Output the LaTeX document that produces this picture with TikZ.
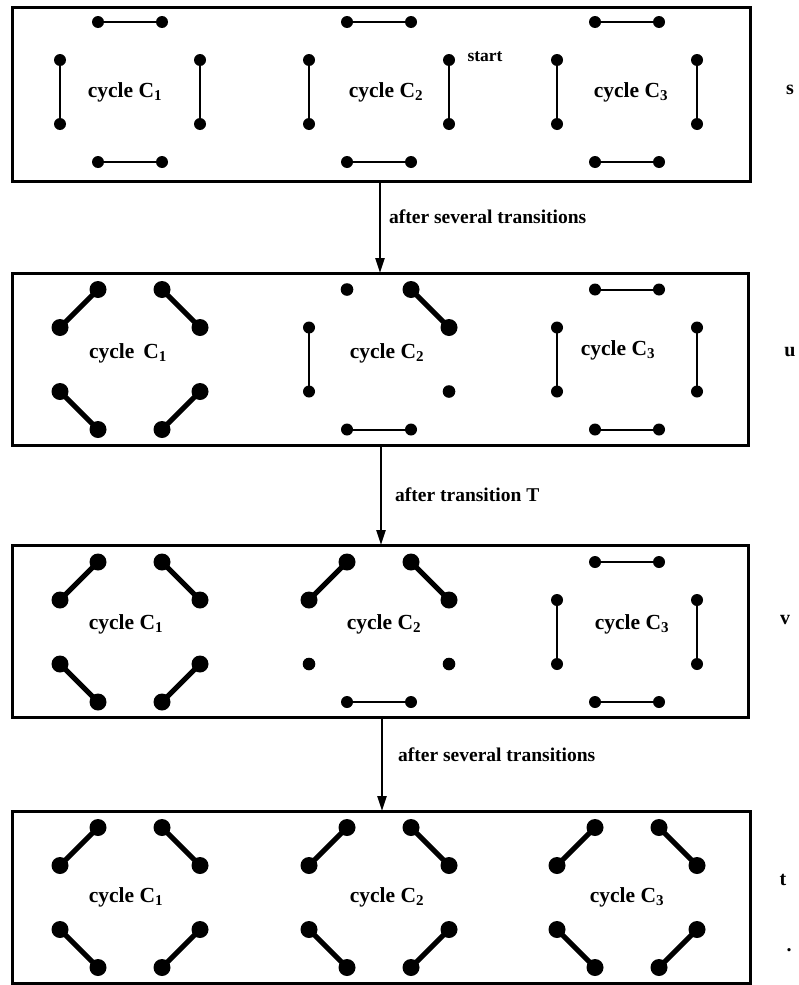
\documentclass[tikz,border=0pt]{standalone}
\usepackage{fontspec}
\setmainfont{Liberation Serif}
\usetikzlibrary{arrows.meta}
\newcommand\cyclepts[3]{%
  \foreach \i/\dx/\dy in {1/-32/-70,2/32/-70,3/70/-32,4/70/32,5/32/70,6/-32/70,7/-70/32,8/-70/-32}
    {\coordinate (#1\i) at (#2+\dx,#3+\dy);}}
\newcommand\thinpair[2]{\draw[thinl] (#1)--(#2); \fill (#1) circle[radius=6]; \fill (#2) circle[radius=6];}
\newcommand\thickpair[2]{\draw[thickl] (#1)--(#2); \fill (#1) circle[radius=8.5]; \fill (#2) circle[radius=8.5];}
\newcommand\onedot[1]{\fill (#1) circle[radius=6.3];}
\begin{document}
\begin{tikzpicture}[x=1pt,y=-1pt,
  frame/.style={draw, line width=3pt, outer sep=0pt, inner sep=0pt, minimum width=738pt},
  thinl/.style={line width=2pt},
  thickl/.style={line width=5pt},
  cyc/.style={font=\fontsize{21.5}{23}\selectfont\bfseries, inner sep=0pt},
  lbl/.style={font=\fontsize{19.5}{21}\selectfont\bfseries, inner sep=0pt},
  side/.style={font=\fontsize{20}{22}\selectfont\bfseries, inner sep=0pt},
  flow/.style={line width=2.6pt, -{Triangle[length=15pt,width=9pt]}},
]
\useasboundingbox (0,0) rectangle (799,985);
% boxes
\node[frame, minimum height=174pt] (b1) at (381,94) {};
\node[frame, minimum height=172pt, minimum width=736pt] (b2) at (380,359) {};
\node[frame, minimum height=172pt, minimum width=736pt] (b3) at (380,631) {};
\node[frame, minimum height=172pt] (b4) at (381,897) {};
% arrows
\coordinate (ax1) at (380,0);
\coordinate (ax2) at (381,0);
\coordinate (ax3) at (382,0);
\draw[flow] (ax1 |- b1.south) -- (ax1 |- b2.north);
\draw[flow] (ax2 |- b2.south) -- (ax2 |- b3.north);
\draw[flow] (ax3 |- b3.south) -- (ax3 |- b4.north);
\node[lbl, anchor=west] (l1) at (389,217) {after several transitions};
\node[lbl, anchor=west] (l2) at (395,495) {after transition T};
\node[lbl, anchor=west] (l3) at (398,755) {after several transitions};
% side labels
\node[side] (ss) at (790,90) {s};
\node[side] (su) at (790,352) {u};
\node[side] (sv) at (785,620) {v};
\node[side] (st) at (783,880) {t};
\node[side] (sdot) at (789,950) {.};
% points
\cyclepts{a}{130}{92}   \cyclepts{b}{379}{92}   \cyclepts{c}{627}{92}
\cyclepts{d}{130}{359.5}\cyclepts{e}{379}{359.5}\cyclepts{f}{627}{359.5}
\cyclepts{g}{130}{632}  \cyclepts{h}{379}{632}  \cyclepts{k}{627}{632}
\cyclepts{m}{130}{897.5}\cyclepts{n}{379}{897.5}\cyclepts{p}{627}{897.5}
% box s
\thinpair{a1}{a2}\thinpair{a3}{a4}\thinpair{a5}{a6}\thinpair{a7}{a8}
\thinpair{b1}{b2}\thinpair{b3}{b4}\thinpair{b5}{b6}\thinpair{b7}{b8}
\thinpair{c1}{c2}\thinpair{c3}{c4}\thinpair{c5}{c6}\thinpair{c7}{c8}
\node[cyc] (ca) at (125,92) {cycle C\textsubscript{1}};
\node[cyc] (cb) at (386,92) {cycle C\textsubscript{2}};
\node[cyc] (cc) at (631,92) {cycle C\textsubscript{3}};
\node[lbl, font=\fontsize{17.5}{19}\selectfont\bfseries] (start) at (485,57) {start};
% box u
\thickpair{d8}{d1}\thickpair{d2}{d3}\thickpair{d4}{d5}\thickpair{d6}{d7}
\onedot{e1}\thickpair{e2}{e3}\onedot{e4}\thinpair{e5}{e6}\thinpair{e7}{e8}
\thinpair{f1}{f2}\thinpair{f3}{f4}\thinpair{f5}{f6}\thinpair{f7}{f8}
\node[cyc] (cd) at (128,353) {cycle \,C\textsubscript{1}};
\node[cyc] (ce) at (387,353) {cycle C\textsubscript{2}};
\node[cyc] (cf) at (618,350) {cycle C\textsubscript{3}};
% box v
\thickpair{g8}{g1}\thickpair{g2}{g3}\thickpair{g4}{g5}\thickpair{g6}{g7}
\thickpair{h8}{h1}\thickpair{h2}{h3}\onedot{h4}\thinpair{h5}{h6}\onedot{h7}
\thinpair{k1}{k2}\thinpair{k3}{k4}\thinpair{k5}{k6}\thinpair{k7}{k8}
\node[cyc] (cg) at (126,624) {cycle C\textsubscript{1}};
\node[cyc] (ch) at (384,624) {cycle C\textsubscript{2}};
\node[cyc] (ck) at (632,624) {cycle C\textsubscript{3}};
% box t
\thickpair{m8}{m1}\thickpair{m2}{m3}\thickpair{m4}{m5}\thickpair{m6}{m7}
\thickpair{n8}{n1}\thickpair{n2}{n3}\thickpair{n4}{n5}\thickpair{n6}{n7}
\thickpair{p8}{p1}\thickpair{p2}{p3}\thickpair{p4}{p5}\thickpair{p6}{p7}
\node[cyc] (cm) at (126,897) {cycle C\textsubscript{1}};
\node[cyc] (cn) at (387,897) {cycle C\textsubscript{2}};
\node[cyc] (cp) at (627,897) {cycle C\textsubscript{3}};
\end{tikzpicture}
\end{document}
